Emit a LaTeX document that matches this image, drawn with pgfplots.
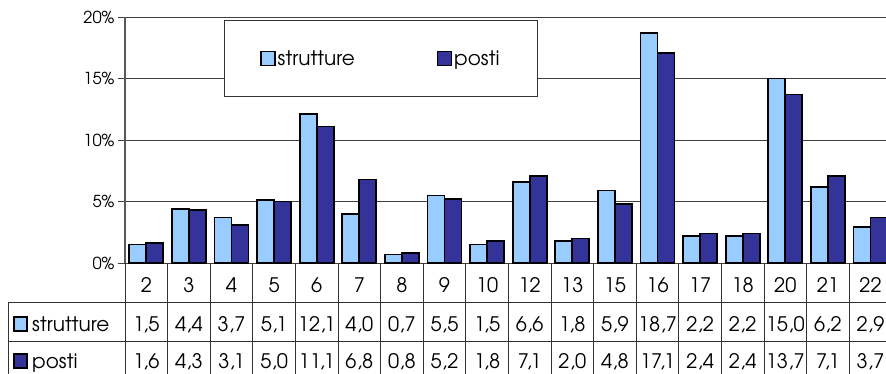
\documentclass[border=0pt]{standalone}
\usepackage{pgfplots}
\pgfplotsset{compat=1.18}
\usepackage{pgfplotstable}
\usepackage{fontspec}
\setmainfont{TeX Gyre Adventor}
\definecolor{lightb}{HTML}{99CCFF}
\definecolor{darkb}{HTML}{333399}

\pgfplotstableread{
x cat s p
0 2 1.5 1.6
1 3 4.4 4.3
2 4 3.7 3.1
3 5 5.1 5.0
4 6 12.1 11.1
5 7 4.0 6.8
6 8 0.7 0.8
7 9 5.5 5.2
8 10 1.5 1.8
9 12 6.6 7.1
10 13 1.8 2.0
11 15 5.9 4.8
12 16 18.7 17.1
13 17 2.2 2.4
14 18 2.2 2.4
15 20 15.0 13.7
16 21 6.2 7.1
17 22 2.9 3.7
}\data

\newcommand{\fs}{\fontsize{20}{23}\selectfont}
\newcommand{\fy}{\fontsize{16.5}{19}\selectfont}

\begin{document}
\begin{tikzpicture}[x=1pt,y=1pt]
\useasboundingbox (0,0) rectangle (886,373);
\clip (0,0) rectangle (886,373);
\begin{axis}[
  at={(125pt,110pt)}, anchor=south west,
  scale only axis, width=761pt, height=246pt,
  xmin=-0.5, xmax=17.364, ymin=0, ymax=20,
  ybar=0pt, bar width=17pt,
  axis x line*=bottom, axis y line*=left,
  x axis line style={black!75, line width=1pt},
  y axis line style={black!65, line width=1.2pt},
  ytick={0,5,10,15,20},
  yticklabel={\pgfmathprintnumber{\tick}\%},
  ymajorgrids, grid style={black!75, line width=0.7pt},
  tick align=outside, major tick length=7pt,
  ytick style={black!75, line width=0.8pt},
  xtick=data, xticklabels from table={\data}{cat},
  x tick style={draw=none},
  xticklabel style={anchor=base, yshift=-22pt, font=\fs},
  yticklabel style={font=\fy},
  /pgf/number format/assume math mode=true,
  legend columns=2,
  legend style={at={(0.130,0.988)}, anchor=north west, draw=black!80,
    line width=0.8pt, inner xsep=36pt, inner ysep=28pt, font=\fs,
    /tikz/every even column/.append style={column sep=80pt}},
]
\addplot[fill=lightb, draw=black, line width=1.7pt,
  legend image code/.code={\draw[fill=lightb, draw=black, line width=1.4pt] (0pt,-7pt) rectangle (14pt,7pt);}]
  table[x=x, y=s] {\data};
\addplot[fill=darkb, draw=black, line width=1.7pt,
  legend image code/.code={\draw[fill=darkb, draw=black, line width=1.4pt] (0pt,-7pt) rectangle (14pt,7pt);}]
  table[x=x, y=p] {\data};
\legend{strutture, posti}
\end{axis}
% data table
\foreach \k in {0,...,18} \draw[black!80, line width=0.8pt] ({125+\k*42.6},110) -- ({125+\k*42.6},-5);
\draw[black!80, line width=0.8pt] (8,71) -- (886,71);
\draw[black!80, line width=0.8pt] (8,32) -- (886,32);
\draw[black!80, line width=0.8pt] (8,71) -- (8,-5);
\draw[fill=lightb, line width=1.4pt] (14,42) rectangle (27,56);
\node[anchor=base west, font=\fs, inner sep=0pt] at (32,42) {strutture};
\draw[fill=darkb, line width=1.4pt] (14,5) rectangle (27,19);
\node[anchor=base west, font=\fs, inner sep=0pt] at (32,5) {posti};
\foreach \i in {0,...,17} {
  \pgfplotstablegetelem{\i}{s}\of\data
  \node[anchor=base, font=\fs, inner sep=0pt] at ({125+(\i+0.5)*42.6},42)
    {\pgfmathprintnumber[fixed,fixed zerofill,precision=1,use comma,assume math mode=true]{\pgfplotsretval}};
  \pgfplotstablegetelem{\i}{p}\of\data
  \node[anchor=base, font=\fs, inner sep=0pt] at ({125+(\i+0.5)*42.6},5)
    {\pgfmathprintnumber[fixed,fixed zerofill,precision=1,use comma,assume math mode=true]{\pgfplotsretval}};
}
\end{tikzpicture}
\end{document}
